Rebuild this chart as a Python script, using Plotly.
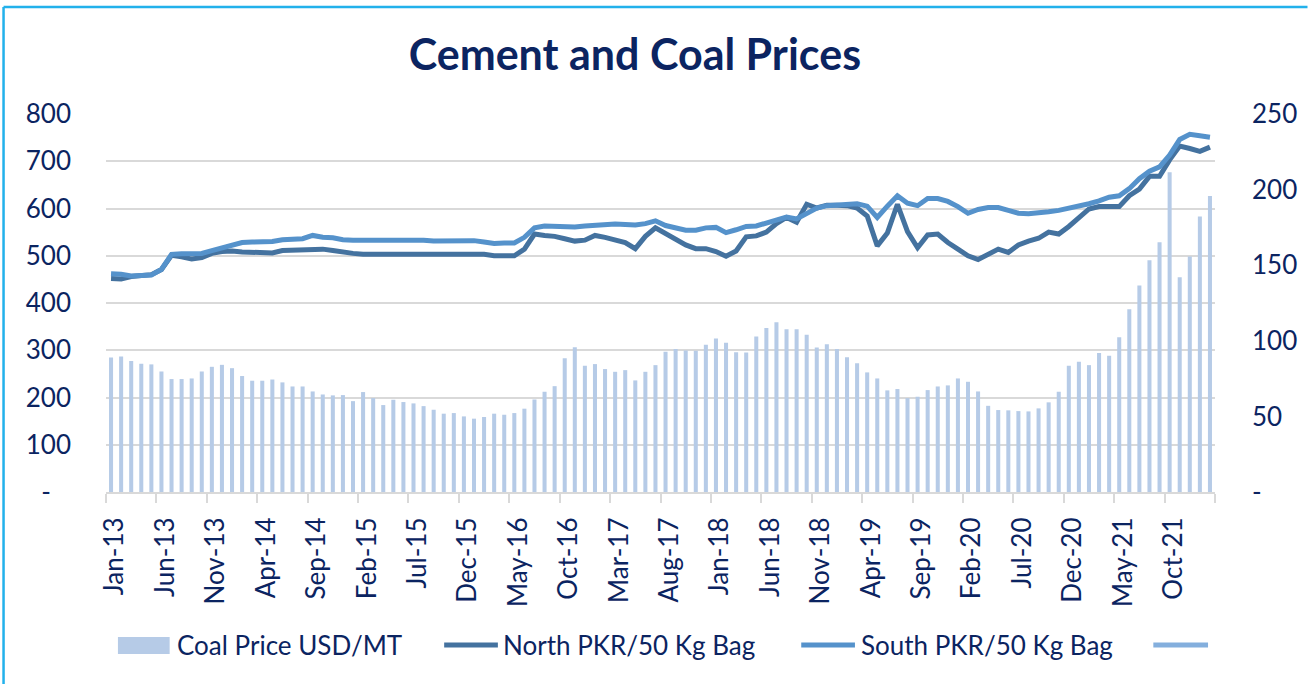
import pandas as pd
import plotly.graph_objects as go

# monthly categories Jan-13 .. Feb-22
months = [d.strftime('%b-%y') for d in pd.date_range('2013-01-01', '2022-02-01', freq='MS')]

coal_usd_mt = [
    89.0, 89.6, 86.6, 84.8, 84.4, 79.7, 74.7, 74.7, 75.1, 79.7, 82.8, 84.1,
    81.9, 76.7, 73.6, 73.6, 74.4, 72.5, 69.8, 69.8, 66.5, 64.5, 63.9, 64.1,
    60.1, 66.1, 62.1, 57.5, 61.0, 59.5, 58.6, 56.8, 54.4, 51.8, 52.2, 50.0,
    48.5, 49.6, 51.8, 51.1, 52.2, 55.1, 61.2, 66.3, 70.0, 88.5, 95.8, 83.5,
    84.6, 81.3, 79.5, 80.6, 73.8, 79.5, 83.9, 92.7, 94.5, 93.6, 93.4, 97.4,
    101.5, 98.7, 92.5, 92.3, 102.9, 108.4, 112.3, 107.7, 107.7, 104.0, 95.6, 97.8,
    94.5, 89.2, 85.2, 79.1, 75.1, 67.2, 68.1, 62.1, 63.0, 67.4, 69.8, 70.5,
    75.1, 72.9, 66.5, 57.0, 54.2, 54.0, 53.5, 53.3, 55.3, 59.3, 66.3, 83.5,
    86.1, 83.9, 91.9, 90.1, 102.4, 120.9, 136.6, 153.3, 165.2, 211.5, 142.1, 155.7,
    182.2, 195.8,
]

north_pkr = [
    452, 451, 456, 457, 460, 471, 501, 498, 493, 496, 505, 509,
    510, 508, 507, 507, 506, 511, 512, 512, 512, 514, 511, 507,
    505, 503, 503, 503, 504, 505, 504, 504, 503, 505, 505, 505,
    504, 503, 500, 500, 500, 514, 546, 543, 541, 536, 531, 533,
    543, 539, 534, 528, 515, 541, 559, 546, 534, 523, 515, 515,
    509, 499, 510, 540, 542, 550, 568, 581, 571, 609, 601, 607,
    607, 606, 601, 584, 521, 548, 609, 551, 517, 544, 546, 528,
    514, 500, 492, 502, 514, 507, 523, 531, 537, 550, 546, 562,
    579, 599, 604, 604, 604, 627, 641, 668, 668, 703, 732, 727,
    721, 730,
]

south_pkr = [
    462, 461, 457, 457, 459, 471, 503, 504, 505, 505, 511, 517,
    524, 528, 529, 529, 530, 534, 535, 536, 543, 539, 538, 534,
    533, 533, 533, 534, 533, 533, 533, 533, 531, 531, 530, 531,
    532, 529, 526, 527, 527, 539, 559, 563, 562, 560, 561, 563,
    565, 567, 567, 566, 565, 568, 574, 564, 558, 554, 554, 559,
    560, 549, 555, 562, 563, 570, 577, 582, 578, 591, 601, 606,
    607, 608, 610, 605, 581, 605, 627, 611, 606, 621, 621, 615,
    604, 590, 598, 602, 602, 596, 590, 589, 590, 593, 596, 600,
    604, 610, 616, 624, 627, 642, 663, 679, 688, 713, 746, 757,
    754, 751,
]

left_ticks = [0, 100, 200, 300, 400, 500, 600, 700, 800]
left_text = ['-\u00a0\u00a0\u00a0'] + [str(v) for v in left_ticks[1:]]
right_ticks = [0, 50, 100, 150, 200, 250]
right_text = ['-'] + [str(v) for v in right_ticks[1:]]

NAVY = '#0b2461'
GRID = '#d9d9d9'
FONT = 'Lato'
FS = 26

W, H = 1309, 684
L, R, T, B = 106, 88, 114, 192
PW, PH = W - L - R, H - T - B


def px(x):
    return (x - L) / PW


def py(y):
    return (H - B - y) / PH


fig = go.Figure()

fig.add_trace(go.Bar(x=months, y=coal_usd_mt, name='Coal Price USD/MT',
                     marker=dict(color='#b6cbe7', line=dict(width=0)),
                     yaxis='y'))
fig.add_trace(go.Scatter(x=months, y=north_pkr, name='North PKR/50 Kg Bag',
                         mode='lines', line=dict(color='#44729f', width=5),
                         yaxis='y2'))
fig.add_trace(go.Scatter(x=months, y=south_pkr, name='South PKR/50 Kg Bag',
                         mode='lines', line=dict(color='#5592cb', width=5),
                         yaxis='y2'))

fig.update_layout(
    width=W, height=H,
    margin=dict(l=L, r=R, t=T, b=B, pad=0),
    paper_bgcolor='white', plot_bgcolor='white',
    showlegend=False,
    bargap=0.6,
    font=dict(family=FONT, color=NAVY, size=FS),
    title=dict(text='<b>Cement and Coal Prices</b>', x=0.485, y=1 - 55 / H,
               xanchor='center', yanchor='middle',
               font=dict(family=FONT, size=43, color=NAVY)),
    xaxis=dict(type='category', tickmode='linear', tick0=0, dtick=5,
               tickson='boundaries', ticks='outside', ticklen=9,
               tickcolor=GRID, tickwidth=1.5, showline=True,
               linecolor=GRID, linewidth=1.5, showgrid=False,
               ticksuffix='\u00a0\u00a0', ticklabelshift=4,
               tickangle=-90, tickfont=dict(size=FS, color=NAVY)),
    yaxis=dict(range=[0, 250], side='right', tickmode='array',
               tickvals=right_ticks, ticktext=right_text, showgrid=False,
               zeroline=False, ticklabelstandoff=36,
               tickfont=dict(size=FS, color=NAVY)),
    yaxis2=dict(range=[0, 800], side='left', overlaying='y',
                tickmode='array', tickvals=left_ticks, ticktext=left_text,
                showgrid=True, gridcolor=GRID, gridwidth=1.5,
                zeroline=False, ticklabelstandoff=34,
                tickfont=dict(size=FS, color=NAVY)),
)

# chart frame (top and left edge visible)
shapes = [
    dict(type='line', xref='paper', yref='paper', x0=px(3), x1=px(W + 5),
         y0=py(7), y1=py(7), line=dict(color='#22b1eb', width=2.5)),
    dict(type='line', xref='paper', yref='paper', x0=px(3), x1=px(3),
         y0=py(7), y1=py(H + 5), line=dict(color='#22b1eb', width=2.5)),
]

# legend drawn like the original (wide swatches, blank fourth entry)
LY = 645
shapes.append(dict(type='rect', xref='paper', yref='paper',
                   x0=px(118), x1=px(170), y0=py(637), y1=py(654),
                   fillcolor='#b6cbe7', line=dict(width=0)))
legend_lines = [(446, 500, '#44729f'), (805, 859, '#5592cb'),
                (1159, 1214, '#84afdd')]
for x0, x1, c in legend_lines:
    shapes.append(dict(type='line', xref='paper', yref='paper',
                       x0=px(x0), x1=px(x1), y0=py(LY), y1=py(LY),
                       line=dict(color=c, width=5)))

legend_texts = [(175, 'Coal Price USD/MT'), (503, 'North PKR/50 Kg Bag'),
                (863, 'South PKR/50 Kg Bag')]
annotations = []
for x0, t in legend_texts:
    annotations.append(dict(text=t, xref='paper', yref='paper', x=px(x0),
                            y=py(LY), xanchor='left', yanchor='middle',
                            showarrow=False,
                            font=dict(family=FONT, size=FS, color=NAVY)))

fig.update_layout(shapes=shapes, annotations=annotations)

# page body margin would push the figure 8px off the window corner
fig.write_html('out.html', config={'displayModeBar': False},
               post_script="document.body.style.margin='0';")
